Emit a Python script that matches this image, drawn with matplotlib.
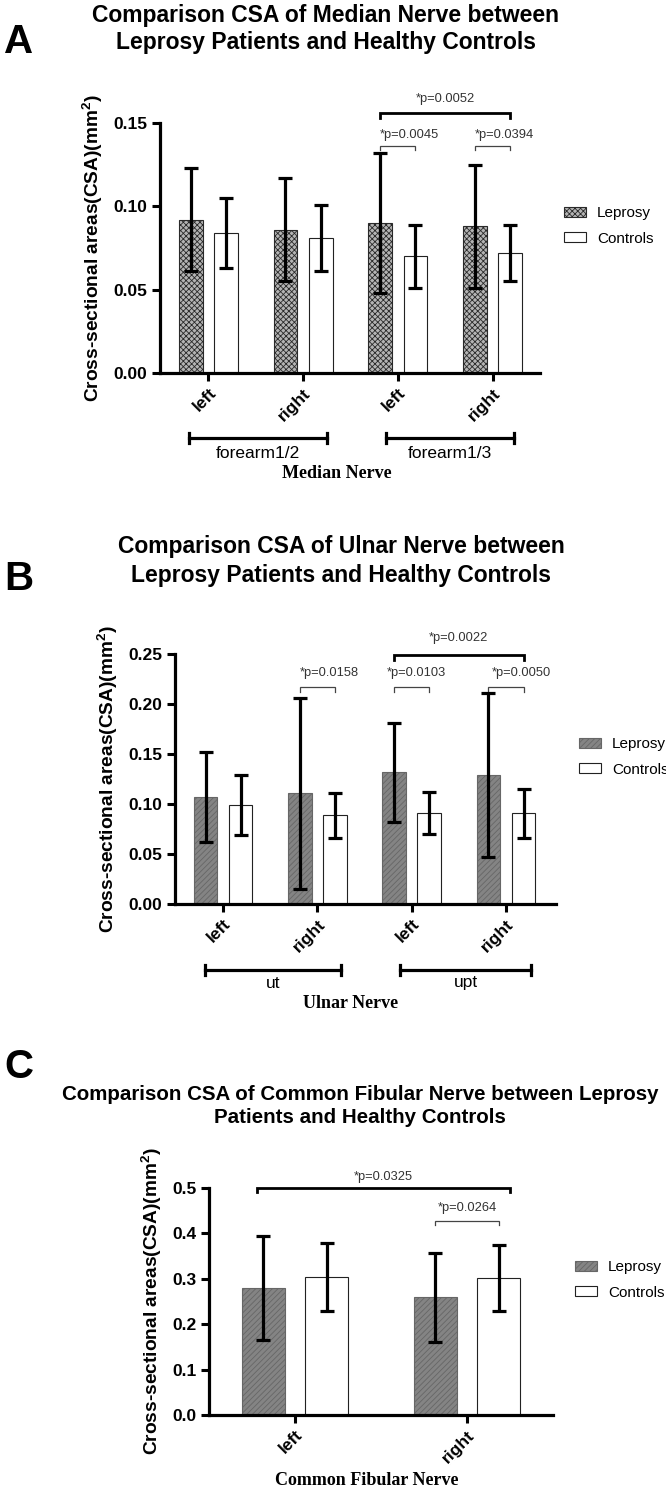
import matplotlib
matplotlib.use("Agg")
import matplotlib.pyplot as plt
import numpy as np
from matplotlib.ticker import FormatStrFormatter

# --- data ---
median_labels = ["left", "right", "left", "right"]
median_lep_mean = [0.092, 0.086, 0.090, 0.088]
median_lep_sd = [0.031, 0.031, 0.042, 0.037]
median_ctl_mean = [0.084, 0.081, 0.070, 0.072]
median_ctl_sd = [0.021, 0.020, 0.019, 0.017]

ulnar_labels = ["left", "right", "left", "right"]
ulnar_lep_mean = [0.107, 0.111, 0.132, 0.129]
ulnar_lep_sd = [0.045, 0.0955, 0.0495, 0.082]
ulnar_ctl_mean = [0.099, 0.089, 0.091, 0.091]
ulnar_ctl_sd = [0.030, 0.0225, 0.021, 0.0245]

fibular_labels = ["left", "right"]
fibular_lep_mean = [0.279, 0.259]
fibular_lep_sd = [0.1145, 0.0985]
fibular_ctl_mean = [0.304, 0.301]
fibular_ctl_sd = [0.075, 0.073]

W, H = 666, 1491
plt.rcParams["font.family"] = ["Liberation Sans", "DejaVu Sans"]
plt.rcParams["hatch.linewidth"] = 0.6
plt.rcParams["mathtext.fontset"] = "custom"
plt.rcParams["mathtext.bf"] = "Liberation Sans:bold"
plt.rcParams["mathtext.rm"] = "Liberation Sans"

fig = plt.figure(figsize=(W / 100, H / 100), dpi=100)
fig.patch.set_facecolor("white")

OFF, BW = 0.186, 0.25
YLABEL = "Cross-sectional areas(CSA)(mm$^{\\mathbf{2}}$)"


def px_axes(left, top, right, bottom):
    return fig.add_axes([left / W, 1 - bottom / H, (right - left) / W, (bottom - top) / H])


def draw_panel(ax, labels, lep_m, lep_sd, ctl_m, ctl_sd, ymax, ystep, fmt, lep_style, xlim):
    x = np.arange(len(labels))
    ax.bar(x - OFF, lep_m, BW, label="Leprosy", zorder=2, **lep_style)
    ax.bar(x + OFF, ctl_m, BW, facecolor="white", edgecolor="#222222",
           linewidth=0.8, label="Controls", zorder=2)
    for xs, m, sd in [(x - OFF, lep_m, lep_sd), (x + OFF, ctl_m, ctl_sd)]:
        ax.errorbar(xs, m, yerr=sd, fmt="none", ecolor="black", elinewidth=2.3,
                    capsize=5, capthick=2.3, zorder=3)
    ax.set_xlim(xlim)
    ax.set_ylim(0, ymax)
    ax.set_yticks(np.arange(0, ymax + 1e-9, ystep))
    ax.yaxis.set_major_formatter(FormatStrFormatter(fmt))
    ax.set_xticks(x)
    ax.set_xticklabels(labels, rotation=45, ha="right", rotation_mode="anchor",
                       fontweight="bold", fontsize=12.5)
    for lab in ax.get_yticklabels():
        lab.set_fontweight("bold")
    ax.tick_params(direction="out", length=6, width=2.2, labelsize=12.5, pad=3)
    ax.spines["top"].set_visible(False)
    ax.spines["right"].set_visible(False)
    ax.spines["left"].set_linewidth(2.3)
    ax.spines["bottom"].set_linewidth(2.3)
    ax.set_ylabel(YLABEL, fontweight="bold", fontsize=13.8, labelpad=6)


def sig(ax, x0, x1, y, drop, text, ty, lw, color, ha="center", tx=None):
    ax.plot([x0, x0, x1, x1], [y - drop, y, y, y - drop], color=color, lw=lw,
            clip_on=False, solid_joinstyle="miter")
    if tx is None:
        tx = (x0 + x1) / 2 if ha == "center" else x0
    ax.text(tx, ty, text, ha=ha, va="center", fontsize=9.3, color="#333333")


def group_bar(ax, x0, x1, y, text, ty):
    tr = ax.get_xaxis_transform()
    ax.plot([x0, x1], [y, y], color="black", lw=2.3, transform=tr, clip_on=False)
    for xx in (x0, x1):
        ax.plot([xx, xx], [y - 0.02, y + 0.02], color="black", lw=2.3,
                transform=tr, clip_on=False)
    ax.text((x0 + x1) / 2, ty, text, ha="center", va="center", fontsize=12.5,
            transform=tr)


def legend(ax, left_px, center_px):
    ax.legend(loc="center left", bbox_to_anchor=(left_px / W, 1 - center_px / H),
              bbox_transform=fig.transFigure, frameon=False, fontsize=11,
              handlelength=1.45, handleheight=0.65, handletextpad=0.7,
              labelspacing=0.75, borderpad=0, borderaxespad=0)


def title(lines, xc, baselines, size):
    for line, b in zip(lines, baselines):
        fig.text(xc / W, 1 - b / H, line, ha="center", va="baseline",
                 fontsize=size, fontweight="bold")


def letter(ch, baseline):
    fig.text(4 / W, 1 - baseline / H, ch, ha="left", va="baseline",
             fontsize=29, fontweight="bold")


checker = dict(facecolor="#b4b4b4", edgecolor="#2a2a2a", hatch="xxxxxx", linewidth=0.8)
gray = dict(facecolor="#848484", edgecolor="#666666", hatch="//////", linewidth=0.8)

# ---------------- Panel A ----------------
letter("A", 53)
title(["Comparison CSA of Median Nerve between",
       "Leprosy Patients and Healthy Controls"], 326, [22, 49], 16.5)
axA = px_axes(160, 123, 540, 373)
draw_panel(axA, median_labels, median_lep_mean, median_lep_sd, median_ctl_mean,
           median_ctl_sd, 0.15, 0.05, "%.2f", checker, (-0.51, 3.5))
sig(axA, 2 - OFF, 3 + OFF, 0.156, 0.003, "*p=0.0052", 0.1644, 2.0, "black")
sig(axA, 2 - OFF, 2 + OFF, 0.1362, 0.0025, "*p=0.0045", 0.1428, 0.9, "#444444", ha="left")
sig(axA, 3 - OFF, 3 + OFF, 0.1362, 0.0025, "*p=0.0394", 0.1428, 0.9, "#444444", ha="left")
group_bar(axA, -0.2, 1.25, -0.26, "forearm1/2", -0.32)
group_bar(axA, 1.87, 3.23, -0.26, "forearm1/3", -0.32)
axA.text(0.466, -0.40, "Median Nerve", transform=axA.transAxes, ha="center", va="center",
         fontfamily="Liberation Serif", fontweight="bold", fontsize=13)
legend(axA, 564, 226)

# ---------------- Panel B ----------------
letter("B", 590)
title(["Comparison CSA of Ulnar Nerve between",
       "Leprosy Patients and Healthy Controls"], 341, [553, 582], 16.5)
axB = px_axes(175, 654, 556, 904)
draw_panel(axB, ulnar_labels, ulnar_lep_mean, ulnar_lep_sd, ulnar_ctl_mean,
           ulnar_ctl_sd, 0.25, 0.05, "%.2f", gray, (-0.51, 3.53))
sig(axB, 2 - OFF, 3 + OFF, 0.249, 0.005, "*p=0.0022", 0.266, 2.0, "black")
sig(axB, 1 - OFF, 1 + OFF, 0.217, 0.005, "*p=0.0158", 0.231, 0.9, "#444444", ha="left")
sig(axB, 2 - OFF, 2 + OFF, 0.217, 0.005, "*p=0.0103", 0.231, 0.9, "#444444", ha="left",
    tx=2 - OFF - 0.08)
sig(axB, 3 - OFF, 3 + OFF, 0.217, 0.005, "*p=0.0050", 0.231, 0.9, "#444444", ha="left",
    tx=3 - OFF + 0.03)
group_bar(axB, -0.19, 1.25, -0.264, "ut", -0.316)
group_bar(axB, 1.88, 3.26, -0.264, "upt", -0.316)
axB.text(0.46, -0.40, "Ulnar Nerve", transform=axB.transAxes, ha="center", va="center",
         fontfamily="Liberation Serif", fontweight="bold", fontsize=13)
legend(axB, 579, 757)

# ---------------- Panel C ----------------
letter("C", 1078)
title(["Comparison CSA of Common Fibular Nerve between Leprosy",
       "Patients and Healthy Controls"], 360, [1100, 1123], 14.8)
axC = px_axes(209, 1188, 553, 1415)
draw_panel(axC, fibular_labels, fibular_lep_mean, fibular_lep_sd, fibular_ctl_mean,
           fibular_ctl_sd, 0.5, 0.1, "%.1f", gray, (-0.5, 1.5))
sig(axC, -0.22, 1.25, 0.5, 0.009, "*p=0.0325", 0.524, 2.0, "black")
sig(axC, 1 - OFF, 1 + OFF, 0.427, 0.009, "*p=0.0264", 0.456, 0.9, "#444444")
axC.text(0.46, -0.29, "Common Fibular Nerve", transform=axC.transAxes, ha="center",
         va="center", fontfamily="Liberation Serif", fontweight="bold", fontsize=13)
legend(axC, 575, 1280)

fig.savefig("out.png", dpi=100, facecolor="white")
